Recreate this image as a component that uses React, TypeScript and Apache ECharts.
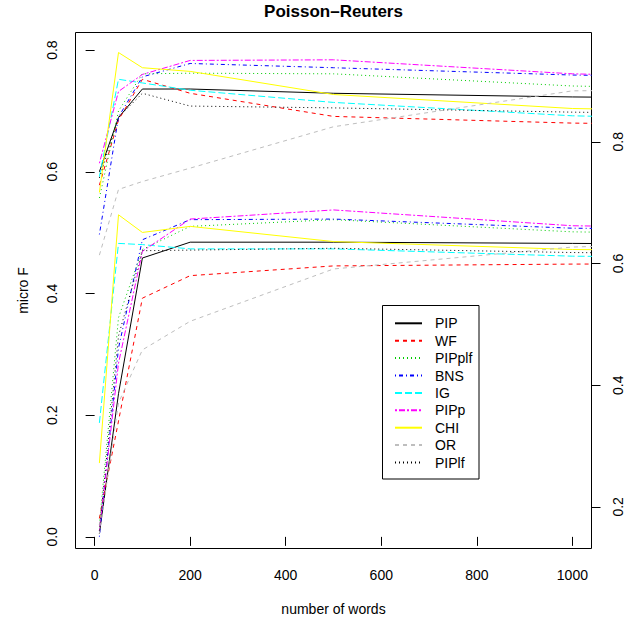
import React, { useEffect, useRef } from "react";
import * as echarts from "echarts";

// number of words (last point lies beyond the visible x range and is clipped)
const xValues = [10, 50, 100, 200, 500, 1000, 2000];
const methods = ["PIP", "WF", "PIPplf", "BNS", "IG", "PIPp", "CHI", "OR", "PIPlf"];
const xTicks = [0, 200, 400, 600, 800, 1000];
const leftTicks = [0, 0.2, 0.4, 0.6, 0.8];
const rightTicks = [0.2, 0.4, 0.6, 0.8];

// upper curves, read on the left axis (micro F)
const microPIP = [0.6, 0.689, 0.736, 0.736, 0.729, 0.723, 0.716];
const microWF = [0.578, 0.685, 0.752, 0.729, 0.691, 0.68, 0.672];
const microPIPplf = [0.557, 0.7, 0.761, 0.762, 0.761, 0.741, 0.725];
const microBNS = [0.497, 0.69, 0.756, 0.778, 0.771, 0.759, 0.748];
const microIG = [0.592, 0.752, 0.746, 0.734, 0.714, 0.692, 0.675];
const microPIPp = [0.614, 0.732, 0.76, 0.783, 0.784, 0.761, 0.742];
const microCHI = [0.566, 0.796, 0.771, 0.765, 0.727, 0.704, 0.69];
const microOR = [0.463, 0.571, 0.584, 0.606, 0.674, 0.733, 0.74];
const microPIPlf = [0.59, 0.69, 0.729, 0.708, 0.705, 0.698, 0.69];

// lower curves, read on the right axis
const rightPIP = [0.156, 0.386, 0.609, 0.635, 0.635, 0.633, 0.629];
const rightWF = [0.181, 0.341, 0.543, 0.58, 0.596, 0.599, 0.601];
const rightPIPplf = [0.171, 0.511, 0.623, 0.661, 0.672, 0.652, 0.641];
const rightBNS = [0.151, 0.461, 0.639, 0.672, 0.673, 0.658, 0.651];
const rightIG = [0.338, 0.633, 0.631, 0.624, 0.624, 0.612, 0.606];
const rightPIPp = [0.161, 0.436, 0.62, 0.673, 0.688, 0.662, 0.651];
const rightCHI = [0.272, 0.68, 0.651, 0.661, 0.636, 0.623, 0.616];
const rightOR = [0.156, 0.371, 0.458, 0.505, 0.591, 0.627, 0.651];
const rightPIPlf = [0.161, 0.481, 0.621, 0.622, 0.625, 0.618, 0.611];

const upper = [microPIP, microWF, microPIPplf, microBNS, microIG, microPIPp, microCHI, microOR, microPIPlf];
const lower = [rightPIP, rightWF, rightPIPplf, rightBNS, rightIG, rightPIPp, rightCHI, rightOR, rightPIPlf];

const colors = ["#000000", "#FF0000", "#00CD00", "#0000FF", "#00FFFF", "#FF00FF", "#FFFF00", "#BEBEBE", "#000000"];
const dashes: any[] = ["solid", [4, 4], [1, 3], [1, 3, 4, 3], [7, 3], [2, 2, 6, 2], "solid", [4, 4], [1, 3]];

const FONT = "'Liberation Sans', Arial, Helvetica, sans-serif";

export default function App() {
  const ref = useRef<HTMLDivElement>(null);
  useEffect(() => {
    if (!ref.current) return;
    const chart = echarts.init(ref.current, undefined, { renderer: "svg" });
    const gridLeft = 75.5;
    const gridTop = 32.5;
    const gridW = 516;
    const gridH = 516;
    const series: any[] = [];
    methods.forEach((m, i) => {
      const style = { color: colors[i], width: 1, type: dashes[i], cap: "butt" };
      series.push({
        name: m,
        type: "line",
        yAxisIndex: 0,
        data: xValues.map((x, j) => [x, upper[i][j]]),
        symbol: "none",
        lineStyle: style,
        itemStyle: { color: colors[i] },
        clip: true,
        silent: true,
      });
      series.push({
        name: m,
        type: "line",
        yAxisIndex: 1,
        data: xValues.map((x, j) => [x, lower[i][j]]),
        symbol: "none",
        lineStyle: style,
        itemStyle: { color: colors[i] },
        clip: true,
        silent: true,
      });
    });
    const axisCommon = {
      type: "value",
      axisLine: { show: false },
      splitLine: { show: false },
    };
    chart.setOption({
      animation: false,
      backgroundColor: "#ffffff",
      grid: {
        left: gridLeft,
        top: gridTop,
        width: gridW,
        height: gridH,
        show: true,
        borderColor: "#000000",
        borderWidth: 1,
        containLabel: false,
        outerBoundsMode: "none",
      },
      xAxis: {
        ...axisCommon,
        min: -40,
        max: 1040,
        axisTick: { show: true, length: 9, customValues: xTicks, lineStyle: { color: "#000" } },
        axisLabel: {
          customValues: xTicks,
          fontSize: 14,
          color: "#000",
          fontFamily: FONT,
          margin: 19,
          showMinLabel: true,
          showMaxLabel: true,
          formatter: (v: number) => String(v),
        },
      },
      yAxis: [
        {
          ...axisCommon,
          position: "left",
          min: -0.0191,
          max: 0.8289,
          axisTick: { show: true, length: 9, customValues: leftTicks, lineStyle: { color: "#000" } },
          axisLabel: {
            customValues: leftTicks,
            rotate: 90,
            fontSize: 14,
            color: "#000",
            fontFamily: FONT,
            margin: 17,
            formatter: (v: number) => v.toFixed(1),
          },
        },
        {
          ...axisCommon,
          position: "right",
          min: 0.1316,
          max: 0.9796,
          axisTick: { show: true, length: 9, customValues: rightTicks, lineStyle: { color: "#000" } },
          axisLabel: { show: false },
        },
      ],
      legend: {
        data: methods,
        orient: "vertical",
        left: 394,
        top: 316.3,
        padding: 0,
        itemWidth: 27,
        itemHeight: 14,
        itemGap: 3.4,
        selectedMode: false,
        itemStyle: { opacity: 0 },
        textStyle: { fontSize: 14, color: "#000", fontFamily: FONT, padding: [0, 0, 0, 8] },
      },
      graphic: [
        {
          id: "legendBox",
          type: "rect",
          shape: { x: 382.5, y: 305.5, width: 96.5, height: 173.5 },
          style: { fill: "none", stroke: "#000", lineWidth: 1 },
          silent: true,
        },
        {
          id: "title",
          type: "text",
          x: gridLeft + gridW / 2,
          y: 11.5,
          style: {
            text: "Poisson\u2013Reuters",
            font: `bold 17px ${FONT}`,
            fill: "#000",
            textAlign: "center",
            textVerticalAlign: "middle",
          },
        },
        {
          id: "xName",
          type: "text",
          x: gridLeft + gridW / 2,
          y: 608.5,
          style: {
            text: "number of words",
            font: `14px ${FONT}`,
            fill: "#000",
            textAlign: "center",
            textVerticalAlign: "middle",
          },
        },
        {
          id: "yName",
          type: "text",
          x: 23,
          y: gridTop + gridH / 2,
          rotation: Math.PI / 2,
          style: {
            text: "micro F",
            font: `14px ${FONT}`,
            fill: "#000",
            textAlign: "center",
            textVerticalAlign: "middle",
          },
        },
      ],
      series,
    });
    // right-axis tick labels, placed with the right axis' own scale
    const rightLabels = rightTicks.map((v, k) => {
      const py = chart.convertToPixel({ yAxisIndex: 1 }, v) as number;
      return {
        id: "rlab" + k,
        type: "text",
        x: 618,
        y: py,
        rotation: Math.PI / 2,
        style: {
          text: v.toFixed(1),
          font: `14px ${FONT}`,
          fill: "#000",
          textAlign: "center",
          textVerticalAlign: "middle",
        },
        silent: true,
      };
    });
    chart.setOption({ graphic: rightLabels });
    return () => chart.dispose();
  }, []);
  return (
    <div
      ref={ref}
      style={{ position: "absolute", left: 0, top: 0, width: 626, height: 618, background: "#fff" }}
    />
  );
}
